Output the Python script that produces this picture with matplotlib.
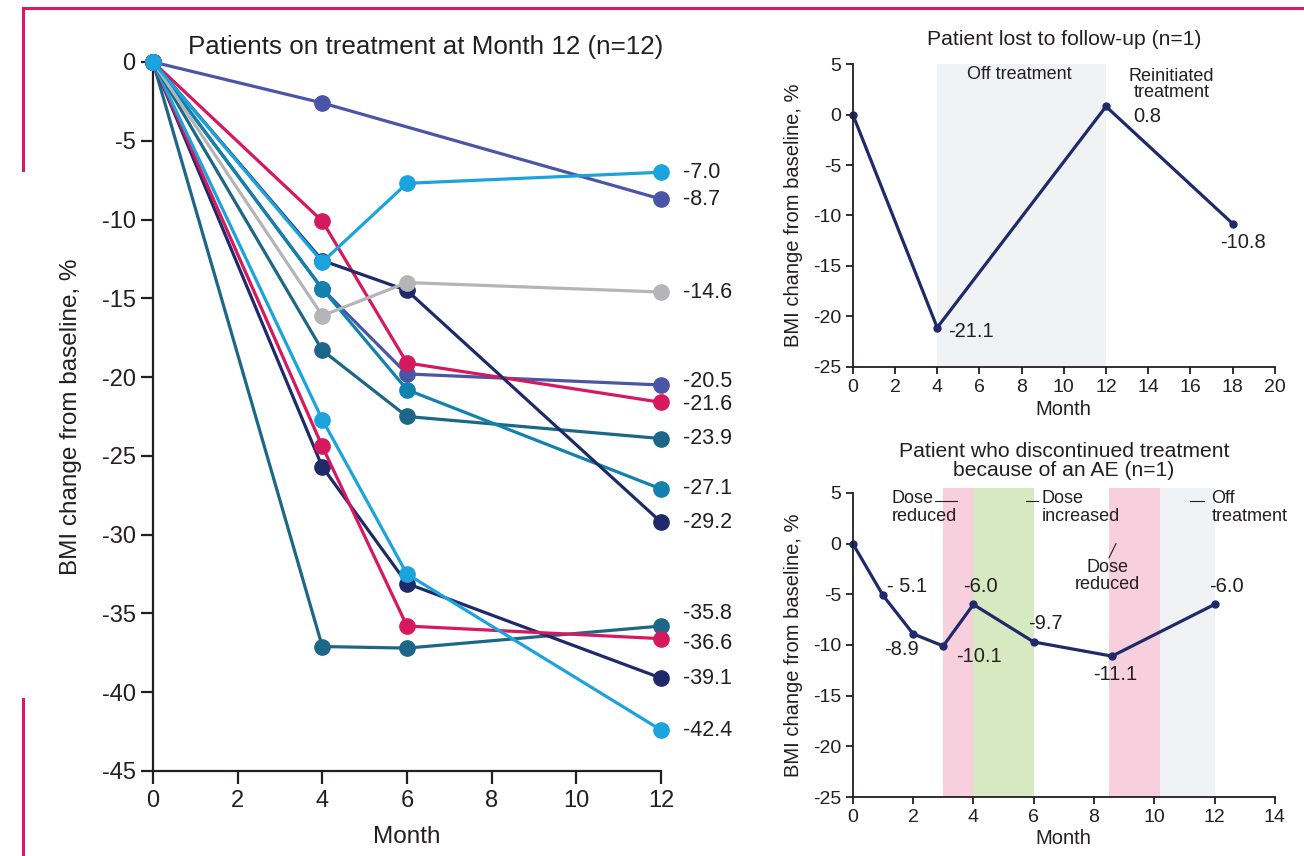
import matplotlib.pyplot as plt
from matplotlib.lines import Line2D

plt.rcParams['font.family'] = ['Liberation Sans', 'DejaVu Sans']
plt.rcParams['axes.unicode_minus'] = False
plt.rcParams['text.color'] = '#231f20'
plt.rcParams['axes.labelcolor'] = '#231f20'
plt.rcParams['xtick.color'] = '#231f20'
plt.rcParams['ytick.color'] = '#231f20'

# --- patients on treatment at month 12 (n=12) ---
on_tx_months = [0, 4, 6, 12]
on_tx_colors = ['#1c6787', '#1f2a6b', '#d6195f', '#1ba3de', '#1c6787', '#4a55a8',
                '#1181ad', '#d6195f', '#1f2a6b', '#b5b5b8', '#4a55a8', '#1ba3de']
on_tx_values = [
    [0, -37.1, -37.2, -35.8],
    [0, -25.7, -33.1, -39.1],
    [0, -24.4, -35.8, -36.6],
    [0, -22.7, -32.5, -42.4],
    [0, -18.3, -22.5, -23.9],
    [0, -14.4, -19.8, -20.5],
    [0, -14.4, -20.8, -27.1],
    [0, -10.1, -19.1, -21.6],
    [0, -12.6, -14.5, -29.2],
    [0, -16.1, -14.0, -14.6],
    [0, -2.6, None, -8.7],
    [0, -12.7, -7.7, -7.0],
]
# small vertical nudges so end labels don't collide
label_nudge = {-35.8: 0.8, -36.6: -0.3, -20.5: 0.2, -21.6: -0.15}

# --- patient lost to follow-up ---
ltfu_months = [0, 4, 12, 18]
ltfu_values = [0, -21.1, 0.8, -10.8]

# --- patient who discontinued because of an AE ---
ae_months = [0, 1, 2, 3, 4, 6, 8.6, 12]
ae_values = [0, -5.1, -8.9, -10.1, -6.0, -9.7, -11.1, -6.0]
ae_labels = ['', '- 5.1', '-8.9', '-10.1', '-6.0', '-9.7', '-11.1', '-6.0']

PINK = '#f8cfdc'
GREEN = '#d7e9c0'
GREY = '#f1f2f4'
NAVY = '#1f2a6b'
INK = '#231f20'

fig = plt.figure(figsize=(13.04, 8.56), dpi=100)


def style_axes(ax, tick_len, lw):
    for s in ['top', 'right']:
        ax.spines[s].set_visible(False)
    for s in ['left', 'bottom']:
        ax.spines[s].set_linewidth(lw)
        ax.spines[s].set_color(INK)
    ax.tick_params(direction='out', length=tick_len, width=lw)


# left panel
ax = fig.add_axes([0.1173, 0.0993, 0.3896, 0.8283])
for col, vals in zip(on_tx_colors, on_tx_values):
    xs = [m for m, v in zip(on_tx_months, vals) if v is not None]
    ys = [v for v in vals if v is not None]
    ax.plot(xs, ys, color=col, lw=2.3, marker='o', ms=11, clip_on=False, zorder=3)
    last = ys[-1]
    ax.annotate(f'{last:.1f}', (12, last + label_nudge.get(last, 0)),
                xytext=(16, 0), textcoords='offset points',
                va='center', ha='left', fontsize=15.5, annotation_clip=False)
ax.set_xlim(0, 12)
ax.set_ylim(-45, 0)
ax.set_xticks(range(0, 13, 2))
ax.set_yticks(range(-45, 1, 5))
ax.tick_params(labelsize=17)
ax.tick_params(axis='x', pad=5)
style_axes(ax, 9, 1.6)
ax.set_xlabel('Month', fontsize=17.5, labelpad=10)
ax.set_ylabel('BMI change from baseline, %', fontsize=17.5, labelpad=14)
ax.set_title('Patients on treatment at Month 12 (n=12)', fontsize=18.7, pad=6, x=0.537)

# top right panel
ax2 = fig.add_axes([0.654, 0.5713, 0.3236, 0.3539])
ax2.axvspan(4, 12, color=GREY, lw=0, zorder=0)
ax2.plot(ltfu_months, ltfu_values, color=NAVY, lw=2.3, marker='o', ms=5, clip_on=False)
ax2.text(7.9, 4.0, 'Off treatment', ha='center', va='center', fontsize=13)
ax2.text(15.1, 3.0, 'Reinitiated\ntreatment', ha='center', va='center',
         fontsize=13, linespacing=0.95)
ax2.text(4.5, -21.5, '-21.1', ha='left', va='center', fontsize=14.5)
ax2.text(13.3, -0.2, '0.8', ha='left', va='center', fontsize=14.5)
ax2.text(18.5, -12.7, '-10.8', ha='center', va='center', fontsize=14.5)
ax2.set_xlim(0, 20)
ax2.set_ylim(-25, 5)
ax2.set_xticks(range(0, 21, 2))
ax2.set_yticks(range(-25, 6, 5))
ax2.tick_params(labelsize=14)
style_axes(ax2, 5, 1.3)
ax2.set_xlabel('Month', fontsize=14.5, labelpad=3)
ax2.set_ylabel('BMI change from baseline, %', fontsize=14.5, labelpad=7)
ax2.set_title('Patient lost to follow-up (n=1)', fontsize=15.2, pad=14)

# bottom right panel
ax3 = fig.add_axes([0.654, 0.0689, 0.3236, 0.3552])
for x0, x1, c in [(3, 4, PINK), (4, 6, GREEN), (8.5, 10.2, PINK), (10.2, 12, GREY)]:
    ax3.axvspan(x0, x1, ymin=0, ymax=1.015, color=c, lw=0, zorder=0, clip_on=False)
ax3.plot(ae_months, ae_values, color=NAVY, lw=2.3, marker='o', ms=5, clip_on=False)
label_pos = [None, (1.15, -4.2, 'left'), (1.6, -10.4, 'center'), (4.2, -11.1, 'center'),
             (4.25, -4.2, 'center'), (6.4, -7.9, 'center'), (8.7, -12.9, 'center'),
             (12.4, -4.2, 'center')]
for lab, pos in zip(ae_labels, label_pos):
    if pos is None:
        continue
    ax3.text(pos[0], pos[1], lab, ha=pos[2], va='center', fontsize=14.5)

ax3.text(1.3, 5.3, 'Dose\nreduced', ha='left', va='top', fontsize=13, linespacing=1.05)
ax3.add_line(Line2D([2.72, 3.45], [4.2, 4.2], color=INK, lw=0.8, clip_on=False))
ax3.text(6.27, 5.3, 'Dose\nincreased', ha='left', va='top', fontsize=13, linespacing=1.05)
ax3.add_line(Line2D([5.75, 6.15], [4.2, 4.2], color=INK, lw=0.8, clip_on=False))
ax3.text(11.9, 5.3, 'Off\ntreatment', ha='left', va='top', fontsize=13, linespacing=1.05)
ax3.add_line(Line2D([11.2, 11.65], [4.2, 4.2], color=INK, lw=0.8, clip_on=False))
ax3.text(8.45, -1.5, 'Dose\nreduced', ha='center', va='top', fontsize=13, linespacing=1.05)
ax3.add_line(Line2D([8.73, 8.5], [0.0, -1.4], color=INK, lw=0.8, clip_on=False))

ax3.set_xlim(0, 14)
ax3.set_ylim(-25, 5)
ax3.set_xticks(range(0, 15, 2))
ax3.set_yticks(range(-25, 6, 5))
ax3.tick_params(labelsize=14)
style_axes(ax3, 5, 1.3)
ax3.set_xlabel('Month', fontsize=14.5, labelpad=2)
ax3.set_ylabel('BMI change from baseline, %', fontsize=14.5, labelpad=7)
ax3.set_title('Patient who discontinued treatment\nbecause of an AE (n=1)',
              fontsize=15.2, pad=12, linespacing=1.0)

# decorative frame
BORDER = '#d81b60'
fig.add_artist(Line2D([23 / 1304, 1], [1 - 8 / 856, 1 - 8 / 856], color=BORDER, lw=2.2))
fig.add_artist(Line2D([23 / 1304, 23 / 1304], [1 - 8 / 856, 1 - 170 / 856], color=BORDER, lw=2.2))
fig.add_artist(Line2D([23 / 1304, 23 / 1304], [1 - 699 / 856, 0], color=BORDER, lw=2.2))

fig.savefig('out.png', dpi=100)
